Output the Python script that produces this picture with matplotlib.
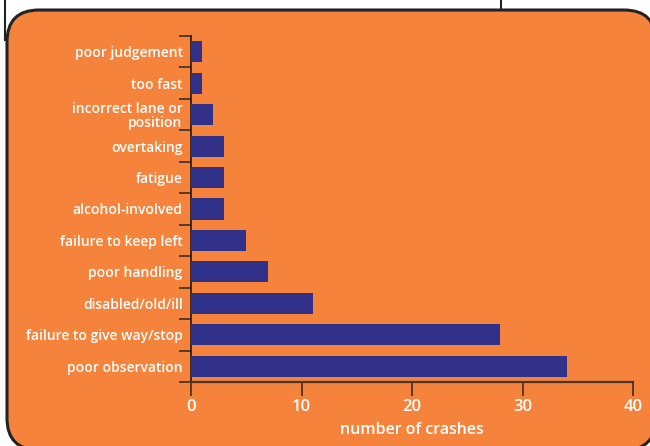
import matplotlib
matplotlib.use("Agg")
import matplotlib.pyplot as plt
from matplotlib.patches import FancyBboxPatch

# data, bottom to top
causes = ["poor observation", "failure to give way/stop", "disabled/old/ill",
          "poor handling", "failure to keep left", "alcohol-involved",
          "fatigue", "overtaking", "incorrect lane or\nposition",
          "too fast", "poor judgement"]
crashes = [34, 28, 11, 7, 5, 3, 3, 3, 2, 1, 1]
xticks = [0, 10, 20, 30, 40]

orange = "#F5833B"
navy = "#31318A"
axcol = "#4a3528"

plt.rcParams['font.family'] = ['Open Sans', 'DejaVu Sans']

W, H = 650, 446
fig = plt.figure(figsize=(W / 100, H / 100), dpi=100)
fig.patch.set_facecolor("white")

# background layer in pixel units for the rounded panel
bg = fig.add_axes([0, 0, 1, 1], zorder=-5)
bg.set_xlim(0, W)
bg.set_ylim(H, 0)
bg.axis("off")
bg.add_patch(FancyBboxPatch((7, 10), 649, 440,
                            boxstyle="round,pad=0,rounding_size=32",
                            facecolor=orange, edgecolor="#222222", linewidth=2.2))
bg.plot([5, 5], [0, 40], color="#222222", lw=1.5)
bg.plot([501, 501], [0, 10], color="#222222", lw=1.5)

ax = fig.add_axes([191 / W, (H - 382) / H, 442 / W, 346 / H])
ax.set_facecolor("none")

y = list(range(len(causes)))
ax.barh(y, crashes, height=0.67, color=navy, zorder=3)

ax.set_xlim(0, 40)
ax.set_ylim(-0.5, len(causes) - 0.5)

ax.set_xticks(xticks)
ax.set_xticklabels([str(v) for v in xticks])
ax.set_yticks(y)
ax.set_yticklabels(causes, linespacing=0.95)
ax.set_yticks([i - 0.5 for i in range(len(causes) + 1)], minor=True)

for s in ["top", "right"]:
    ax.spines[s].set_visible(False)
ax.spines["left"].set_color("#2a2220")
ax.spines["bottom"].set_color(axcol)
ax.spines["left"].set_linewidth(1.3)
ax.spines["bottom"].set_linewidth(1.6)

ax.tick_params(axis="y", which="major", length=0, pad=6, labelcolor="white",
               labelsize=10)
ax.tick_params(axis="y", which="minor", length=9, width=1.3, color=axcol)
ax.tick_params(axis="x", length=10, width=1.3, color=axcol, labelcolor="white",
               labelsize=12, pad=2)
for t in ax.get_yticklabels() + ax.get_xticklabels():
    t.set_fontweight("semibold")

ax.set_xlabel("number of crashes", color="white", fontsize=11.5,
              fontweight="semibold", labelpad=5)

fig.savefig("out.png", dpi=100, facecolor=fig.get_facecolor())
